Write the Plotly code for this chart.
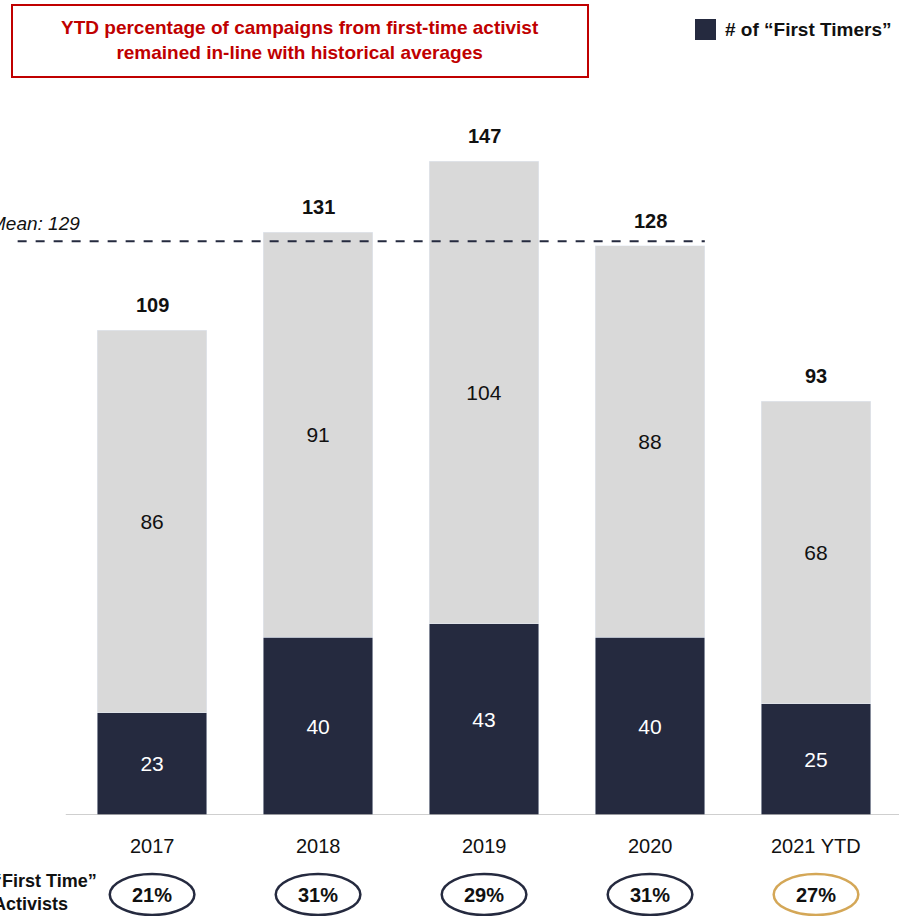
import plotly.graph_objects as go

years = ["2017", "2018", "2019", "2020", "2021 YTD"]
first_timers = [23, 40, 43, 40, 25]
others = [86, 91, 104, 88, 68]
totals = [109, 131, 147, 128, 93]
pct_first = ["21%", "31%", "29%", "31%", "27%"]
mean_value = 129

NAVY = "#252A3F"
GRIS = "#D9D9D9"
ORO = "#D4A757"
ROJO = "#C00000"
FUENTE = "Liberation Sans, Arial, sans-serif"

x_idx = list(range(len(years)))

fig = go.Figure()
fig.add_trace(go.Bar(
    x=x_idx, y=first_timers, marker_color=NAVY, width=0.66,
    text=first_timers, textposition="inside", insidetextanchor="middle",
    textangle=0, textfont=dict(color="white", size=21, family=FUENTE),
    showlegend=False, hoverinfo="skip"
))
fig.add_trace(go.Bar(
    x=x_idx, y=others, marker_color=GRIS, width=0.66,
    text=others, textposition="inside", insidetextanchor="middle",
    textangle=0, textfont=dict(color="#111111", size=21, family=FUENTE),
    showlegend=False, hoverinfo="skip"
))

anns = []
# totales encima de cada barra
for i, t in enumerate(totals):
    anns.append(dict(x=i, y=t, xref="x", yref="y", text=f"<b>{t}</b>",
                     showarrow=False, yanchor="bottom", yshift=12,
                     font=dict(size=20, color="#111111", family=FUENTE)))

# etiquetas de año y porcentajes
for i, (yr, p) in enumerate(zip(years, pct_first)):
    anns.append(dict(x=i, y=-31 / 734, xref="x", yref="paper", text=yr,
                     showarrow=False, yanchor="middle", xanchor="center",
                     font=dict(size=20, color="#111111", family=FUENTE)))
    anns.append(dict(x=i, y=-80 / 734, xref="x", yref="paper", text=f"<b>{p}</b>",
                     showarrow=False, yanchor="middle", xanchor="center",
                     font=dict(size=20, color="#111111", family=FUENTE)))

shapes = []
for i in x_idx:
    col = ORO if i == len(years) - 1 else NAVY
    shapes.append(dict(type="circle", xref="x", yref="paper",
                       x0=i - 0.255, x1=i + 0.255, y0=-59 / 734, y1=-100 / 734,
                       line=dict(color=col, width=2.5), fillcolor="white"))

# línea base
shapes.append(dict(type="line", xref="x", yref="y", x0=-0.52, x1=4.5, y0=0, y1=0,
                   line=dict(color="#BFBFBF", width=1.5)))
# línea de la media
shapes.append(dict(type="line", xref="x", yref="y", x0=-0.81, x1=3.33,
                   y0=mean_value, y1=mean_value,
                   line=dict(color=NAVY, width=2, dash="dash")))
anns.append(dict(x=-0.42, y=mean_value, xref="x", yref="y", text=f"<i>Mean: {mean_value}</i>",
                 showarrow=False, xanchor="right", yanchor="bottom", yshift=5,
                 font=dict(size=19, color="#111111", family=FUENTE)))

# caja del título
shapes.append(dict(type="rect", xref="paper", yref="paper",
                   x0=(12 - 11) / 888, x1=(588 - 11) / 888,
                   y0=(815 - 77) / 734, y1=(815 - 5) / 734,
                   line=dict(color=ROJO, width=2), fillcolor="white"))
anns.append(dict(x=(300 - 11) / 888, y=(815 - 40) / 734, xref="paper", yref="paper",
                 text="<b>YTD percentage of campaigns from first-time activist<br>remained in-line with historical averages</b>",
                 showarrow=False, align="center", xanchor="center", yanchor="middle",
                 font=dict(size=19, color=ROJO, family=FUENTE)))

# leyenda
shapes.append(dict(type="rect", xref="paper", yref="paper",
                   x0=(695 - 11) / 888, x1=(716 - 11) / 888,
                   y0=(815 - 40) / 734, y1=(815 - 19) / 734,
                   line=dict(width=0), fillcolor=NAVY))
anns.append(dict(x=(723 - 11) / 888, y=(815 - 30) / 734, xref="paper", yref="paper",
                 text="<b># of “First Timers”</b>", showarrow=False,
                 xanchor="left", yanchor="middle",
                 font=dict(size=19, color="#111111", family=FUENTE)))

# etiqueta lateral
anns.append(dict(x=(99 - 11) / 888, y=(815 - 893) / 734, xref="paper", yref="paper",
                 text="<b>“First Time”<br>Activists</b>", showarrow=False,
                 xanchor="right", yanchor="middle", align="left",
                 font=dict(size=18, color="#111111", family=FUENTE)))

fig.update_layout(
    barmode="stack",
    width=900, height=916,
    margin=dict(l=11, r=1, t=81, b=101),
    plot_bgcolor="white", paper_bgcolor="white",
    font=dict(family=FUENTE, color="#111111"),
    xaxis=dict(range=[-0.85, 4.5], showticklabels=False, showgrid=False,
               zeroline=False, showline=False, fixedrange=True),
    yaxis=dict(range=[0, 165], visible=False, fixedrange=True),
    shapes=shapes,
    annotations=anns,
)

fig.write_html("out.html", config={"displayModeBar": False},
               post_script="document.body.style.margin='0';")
